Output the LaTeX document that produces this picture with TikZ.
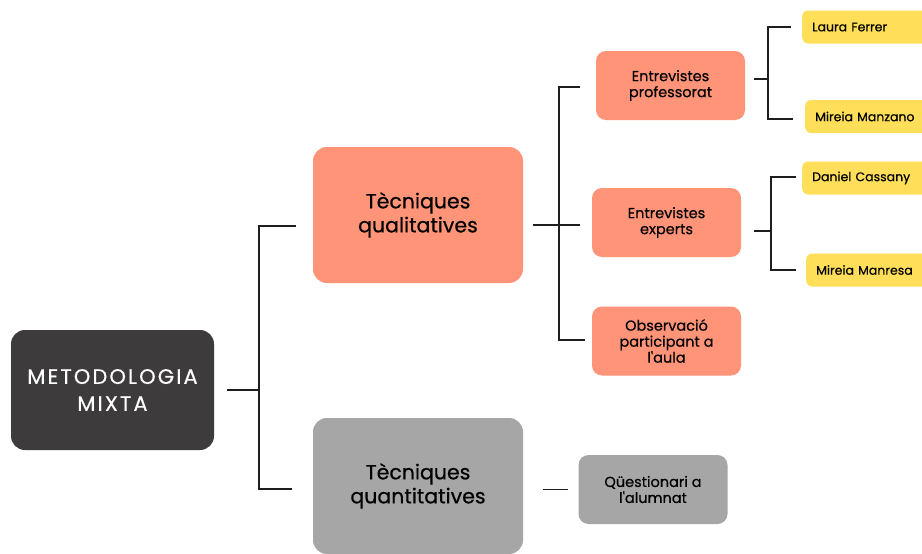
\documentclass[tikz,border=0pt]{standalone}
\usepackage{fontspec}
\setmainfont{Poppins}[FakeBold=0.5]
\newfontfamily\metofont{Poppins}[LetterSpace=10, FakeBold=0.4]
\usetikzlibrary{positioning}
\definecolor{fosc}{HTML}{3D3B3C}
\definecolor{salmo}{HTML}{FF9478}
\definecolor{gris}{HTML}{A6A6A6}
\definecolor{groc}{HTML}{FFDE59}
\definecolor{linia}{HTML}{1E1E1E}

\begin{document}
\begin{tikzpicture}[x=1pt,y=-1pt,
    gran/.style={rounded corners=14pt, minimum width=210pt, minimum height=136pt,
      align=center, font=\fontsize{20.5}{24}\selectfont},
    mitja/.style={rounded corners=10pt, minimum width=149pt, minimum height=69pt,
      align=center, font=\fontsize{14.5}{16}\selectfont},
    nom/.style={fill=groc, rounded corners=6pt, anchor=west, minimum height=33pt,
      text width=120pt, inner xsep=10pt, align=left, font=\fontsize{12.5}{14}\selectfont},
    link/.style={draw=linia, line width=1.8pt}]
            \clip (0,0) rectangle (922,554);

            % caixes
            \node[gran, fill=fosc, text=white, minimum width=203pt, minimum height=120pt,
              font=\metofont\fontsize{21}{27}\selectfont] (meto) at (112.5,390) {METODOLOGIA\\MIXTA};
            \node[gran, fill=salmo] (qual) at (418,215) {Tècniques\\qualitatives};
            \node[gran, fill=gris] (quant) at (418,486) {Tècniques\\quantitatives};

            \node[mitja, fill=salmo] (prof) at (670.5,85.5) {Entrevistes\\professorat};
            \node[mitja, fill=salmo] (expt) at (666.5,222.5) {Entrevistes\\experts};
            \node[mitja, fill=salmo] (obs) at (666.5,341) {Observació\\participant a\\l\textquotesingle aula};
            \node[mitja, fill=gris] (qest) at (653,489.5) {Qüestionari a\\l\textquotesingle alumnat};

            \node[nom] (laura) at (802,27) {Laura Ferrer};
            \node[nom] (manzano) at (805,116.5) {Mireia Manzano};
            \node[nom] (cassany) at (802,178) {Daniel Cassany};
            \node[nom] (manresa) at (806,270) {Mireia Manresa};

            % claus
            \coordinate (b1) at (259,226);
            \coordinate (b1b) at (259,489);
            \draw[link, shorten <=13pt] (meto.east) -- (meto.east -| b1);
            \draw[link, shorten <=17pt, shorten >=21pt] (b1 -| qual.west) -- (b1) -- (b1b) -- (b1b -| quant.west);

            \coordinate (b2) at (559,87);
            \coordinate (b2m) at (559,225);
            \coordinate (b2b) at (559,340);
            \draw[link, shorten <=16pt, shorten >=7pt] (b2 -| prof.west) -- (b2) -- (b2b) -- (b2b -| obs.west);
            \draw[link, shorten <=10pt, shorten >=12pt] (b2m -| qual.east) -- (b2m -| expt.west);
            \draw[link, shorten <=20pt, shorten >=10pt] (quant.east |- qest.west) -- (qest.west);

            \coordinate (b3) at (768,27);
            \coordinate (b3m) at (768,79);
            \coordinate (b3b) at (768,119);
            \draw[link, shorten <=11pt, shorten >=12pt] (b3 -| laura.west) -- (b3) -- (b3b) -- (b3b -| manzano.west);
            \draw[link, shorten <=9pt] (b3m -| prof.east) -- (b3m);

            \coordinate (b4) at (771,177);
            \coordinate (b4m) at (771,231);
            \coordinate (b4b) at (771,270);
            \draw[link, shorten <=6pt, shorten >=10pt] (b4 -| cassany.west) -- (b4) -- (b4b) -- (b4b -| manresa.west);
            \draw[link, shorten <=13pt] (b4m -| expt.east) -- (b4m);
        \end{tikzpicture}
\end{document}
